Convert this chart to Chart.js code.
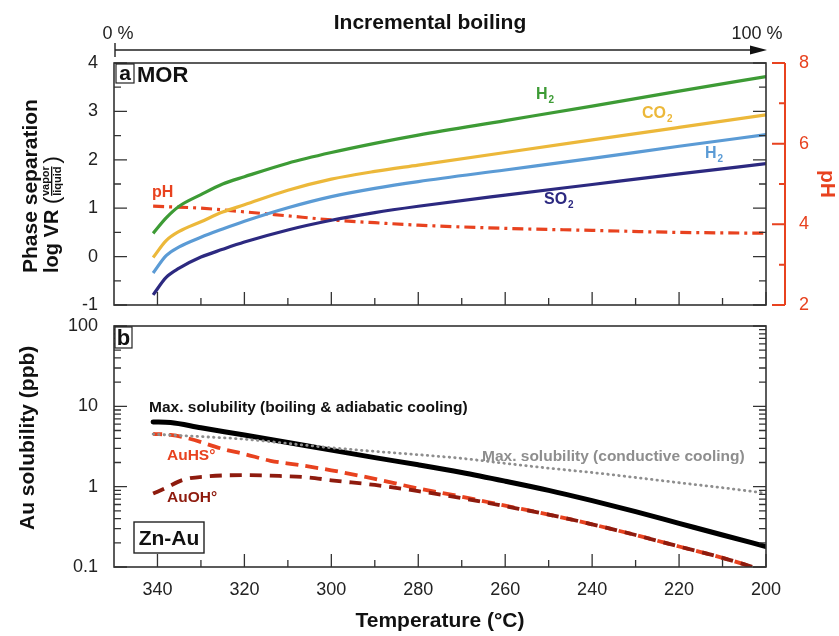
<!DOCTYPE html>
<html>
<head>
<meta charset="utf-8">
<script src="https://cdn.jsdelivr.net/npm/chart.js@4.4.0/dist/chart.umd.min.js"></script>
<style>
  html, body { margin: 0; padding: 0; background: #fff; }
  #wrap { position: relative; width: 839px; height: 636px; }
  #wrap canvas { position: absolute; left: 0; }
  #vrChart { top: 0; }
  #auChart { top: 315px; }
</style>
</head>
<body>
<div id="wrap">
  <canvas id="vrChart" width="839" height="315"></canvas>
  <canvas id="auChart" width="839" height="321"></canvas>
</div>
<script>
const FONT = '"Liberation Sans", Arial, Helvetica, sans-serif';
const AXIS = '#333';
const GREEN = '#3d9b35';
const YELLOW = '#ecb83a';
const BLUE = '#5b9bd5';
const NAVY = '#2c2980';
const RED = '#e8421f';
const DARKRED = '#8e1b0e';
const GREY = '#8e8e8e';

// (a) log vapour/liquid ratios along the boiling path
const vrTemps = [341, 338, 335, 330, 325, 320, 310, 300, 290, 280, 260, 240, 220, 200];
const logVrH2S = [0.48, 0.80, 1.04, 1.28, 1.50, 1.65, 1.93, 2.15, 2.34, 2.51, 2.81, 3.11, 3.42, 3.72];
const logVrCO2 = [-0.02, 0.33, 0.52, 0.72, 0.92, 1.07, 1.37, 1.60, 1.76, 1.89, 2.15, 2.41, 2.67, 2.93];
const logVrH2 = [-0.34, 0.02, 0.20, 0.40, 0.57, 0.73, 1.01, 1.24, 1.41, 1.55, 1.79, 2.03, 2.28, 2.52];
const logVrSO2 = [-0.79, -0.43, -0.24, -0.01, 0.15, 0.30, 0.55, 0.75, 0.91, 1.04, 1.27, 1.49, 1.71, 1.92];
const phTemps = [341, 330, 320, 310, 300, 290, 280, 260, 240, 220, 200];
const phValues = [4.45, 4.40, 4.31, 4.21, 4.11, 4.04, 3.98, 3.90, 3.85, 3.80, 3.78];

// (b) Au solubility (ppb)
const maxTemps = [341, 337, 330, 320, 310, 300, 290, 280, 270, 260, 250, 240, 230, 220, 210, 200];
const maxBoiling = [6.4, 6.3, 5.4, 4.4, 3.55, 2.85, 2.3, 1.87, 1.5, 1.17, 0.9, 0.67, 0.49, 0.35, 0.25, 0.18];
const condTemps = [341, 330, 320, 310, 300, 290, 280, 270, 260, 250, 240, 230, 220, 210, 200];
const maxConductive = [4.5, 4.2, 3.9, 3.45, 3.05, 2.75, 2.5, 2.25, 1.95, 1.7, 1.5, 1.3, 1.12, 0.97, 0.83];
const auhsTemps = [341, 337, 333, 325, 320, 314, 308, 300, 290, 280, 270, 260, 250, 240, 230, 220, 210, 203];
const auHS = [4.55, 4.4, 4.0, 2.95, 2.55, 2.1, 1.88, 1.6, 1.25, 0.95, 0.75, 0.58, 0.45, 0.34, 0.25, 0.18, 0.13, 0.1];
const auohTemps = [341, 338, 334, 328, 320, 312, 305, 300, 290, 280, 270, 260, 250, 240, 230, 220, 210, 203];
const auOH = [0.82, 0.97, 1.22, 1.35, 1.39, 1.36, 1.3, 1.2, 1.05, 0.88, 0.72, 0.57, 0.45, 0.34, 0.25, 0.18, 0.13, 0.1];

// axis ticks
const tempTicks = [340, 320, 300, 280, 260, 240, 220, 200];
const tempMinorTicks = [330, 310, 290, 270, 250, 230, 210];
const vrTicks = [-1, 0, 1, 2, 3, 4];
const vrMinorTicks = [-0.5, 0.5, 1.5, 2.5, 3.5];
const phTicks = [2, 4, 6, 8];
const phMinorTicks = [3, 5, 7];
const solTicks = [0.1, 1, 10, 100];
const solMinorTicks = [];
[0.1, 1, 10].forEach(d => { for (let k = 2; k <= 9; k++) solMinorTicks.push(d * k); });

const pts = (xs, ys) => xs.map((x, i) => ({ x, y: ys[i] }));

function line(data, color, width, extra) {
  return Object.assign({
    data, borderColor: color, borderWidth: width, pointRadius: 0,
    fill: false, cubicInterpolationMode: 'monotone'
  }, extra || {});
}

// fixed axis width; labels may overhang the plot area
function fixWidth(w) {
  return s => { s.width = w; s.paddingTop = 0; s.paddingBottom = 0; };
}

// inward tick marks on the left/right/bottom edges plus the frame
function innerTicks(chart, major, minor) {
  const { ctx, chartArea: a, scales } = chart;
  const x = scales.x, y = scales.y;
  ctx.save();
  ctx.strokeStyle = AXIS;
  ctx.lineWidth = 1.3;
  ctx.beginPath();
  const h = (v, len) => {
    const py = y.getPixelForValue(v);
    ctx.moveTo(a.left, py); ctx.lineTo(a.left + len, py);
    ctx.moveTo(a.right, py); ctx.lineTo(a.right - len, py);
  };
  major.forEach(v => h(v, 13));
  minor.forEach(v => h(v, 7));
  const vt = (v, len) => {
    const px = x.getPixelForValue(v);
    ctx.moveTo(px, a.bottom); ctx.lineTo(px, a.bottom - len);
  };
  tempTicks.forEach(v => vt(v, 13));
  tempMinorTicks.forEach(v => vt(v, 7));
  ctx.stroke();
  ctx.lineWidth = 1.6;
  ctx.strokeRect(a.left, a.top, a.right - a.left, a.bottom - a.top);
  ctx.restore();
}

function text(ctx, str, x, y, font, color, align) {
  ctx.font = font;
  ctx.fillStyle = color;
  ctx.textAlign = align || 'left';
  ctx.textBaseline = 'alphabetic';
  ctx.fillText(str, x, y);
}

function chem(ctx, x, y, base, sub, color) {
  text(ctx, base, x, y, `bold 16px ${FONT}`, color);
  const w = ctx.measureText(base).width;
  text(ctx, sub, x + w + 1, y + 4, `bold 10px ${FONT}`, color);
}

function boxedLetter(ctx, str, x, y, w, h, size) {
  ctx.save();
  ctx.fillStyle = '#fff';
  ctx.fillRect(x, y, w, h);
  ctx.strokeStyle = '#222';
  ctx.lineWidth = 1.2;
  ctx.strokeRect(x, y, w, h);
  ctx.font = `bold ${size}px ${FONT}`;
  ctx.fillStyle = '#111';
  ctx.textAlign = 'center';
  ctx.textBaseline = 'middle';
  ctx.fillText(str, x + w / 2, y + h / 2 + 1);
  ctx.restore();
}

const vrDecor = {
  id: 'vrDecor',
  afterDraw(chart) {
    const { ctx, chartArea: a, scales } = chart;
    innerTicks(chart, vrTicks, vrMinorTicks);

    // pH axis bracket
    const bx = a.right + 19;
    const r = scales.y2;
    ctx.save();
    ctx.strokeStyle = RED;
    ctx.lineWidth = 2;
    ctx.beginPath();
    ctx.moveTo(bx, r.getPixelForValue(8));
    ctx.lineTo(bx, r.getPixelForValue(2));
    phTicks.forEach(v => { const p = r.getPixelForValue(v); ctx.moveTo(bx - 13, p); ctx.lineTo(bx, p); });
    phMinorTicks.forEach(v => { const p = r.getPixelForValue(v); ctx.moveTo(bx - 6, p); ctx.lineTo(bx, p); });
    ctx.stroke();

    // incremental boiling arrow
    const x0 = scales.x.getPixelForValue(350) + 1;
    const x1 = scales.x.getPixelForValue(200) + 1;
    ctx.strokeStyle = '#222';
    ctx.fillStyle = '#111';
    ctx.lineWidth = 1.4;
    ctx.beginPath();
    ctx.moveTo(x0, 50); ctx.lineTo(x1 - 14, 50);
    ctx.moveTo(x0, 43); ctx.lineTo(x0, 57);
    ctx.stroke();
    ctx.beginPath();
    ctx.moveTo(x1 - 17, 45.5); ctx.lineTo(x1, 50); ctx.lineTo(x1 - 17, 54.5);
    ctx.closePath();
    ctx.fill();
    text(ctx, 'Incremental boiling', (a.left + a.right) / 2 - 10, 29, `bold 21px ${FONT}`, '#111', 'center');
    text(ctx, '0 %', x0 + 3, 39, `18px ${FONT}`, '#222', 'center');
    text(ctx, '100 %', x1 - 10, 39, `18px ${FONT}`, '#222', 'center');

    // axis title with vapor/liquid fraction
    ctx.save();
    ctx.translate(37, 273);
    ctx.rotate(-Math.PI / 2);
    text(ctx, 'Phase separation', 0, 0, `bold 21px ${FONT}`, '#111');
    ctx.translate(0, 21);
    text(ctx, 'log VR', 0, 0, `bold 20px ${FONT}`, '#111');
    const lw = ctx.measureText('log VR ').width;
    text(ctx, '(', lw, 1, `22px ${FONT}`, '#111');
    const pw = ctx.measureText('(').width;
    ctx.font = `bold 11px ${FONT}`;
    const fw = ctx.measureText('liquid').width;
    const fx = lw + pw + 1;
    text(ctx, 'vapor', fx + fw / 2, -9, `bold 11px ${FONT}`, '#111', 'center');
    text(ctx, 'liquid', fx + fw / 2, 3, `bold 11px ${FONT}`, '#111', 'center');
    ctx.fillStyle = '#111';
    ctx.fillRect(fx, -7, fw, 1.3);
    text(ctx, ')', fx + fw + 3, 1, `22px ${FONT}`, '#111');
    ctx.restore();

    // panel label
    boxedLetter(ctx, 'a', a.left + 2, a.top + 1, 18, 19, 21);
    text(ctx, 'MOR', a.left + 23, a.top + 19, `bold 22px ${FONT}`, '#111');

    // series labels
    chem(ctx, 536, 99, 'H', '2', GREEN);
    chem(ctx, 642, 118, 'CO', '2', YELLOW);
    chem(ctx, 705, 158, 'H', '2', BLUE);
    chem(ctx, 544, 204, 'SO', '2', NAVY);
    text(ctx, 'pH', 152, 197, `bold 16px ${FONT}`, RED);
    ctx.restore();
  }
};

const auDecor = {
  id: 'auDecor',
  afterDraw(chart) {
    const { ctx, chartArea: a } = chart;
    innerTicks(chart, solTicks, solMinorTicks);
    ctx.save();
    // top of this canvas sits 315px down the page
    const oy = -315;
    ctx.save();
    ctx.translate(34, 530 + oy);
    ctx.rotate(-Math.PI / 2);
    text(ctx, 'Au solubility (ppb)', 0, 0, `bold 21px ${FONT}`, '#111');
    ctx.restore();

    boxedLetter(ctx, 'b', a.left + 1, a.top + 1, 17, 21, 22);

    const f = `bold 15.5px ${FONT}`;
    text(ctx, 'Max. solubility (boiling & adiabatic cooling)', 149, 412 + oy, f, '#111');
    text(ctx, 'Max. solubility (conductive cooling)', 482, 461 + oy, f, GREY);
    text(ctx, 'AuHS°', 167, 460 + oy, f, RED);
    text(ctx, 'AuOH°', 167, 502 + oy, f, DARKRED);

    // Zn-Au box
    ctx.fillStyle = '#fff';
    ctx.fillRect(134, 522 + oy, 70, 31);
    ctx.strokeStyle = '#222';
    ctx.lineWidth = 1.4;
    ctx.strokeRect(134, 522 + oy, 70, 31);
    text(ctx, 'Zn-Au', 169, 545 + oy, `bold 21px ${FONT}`, '#111', 'center');
    ctx.restore();
  }
};

const tickFont = { family: FONT, size: 18 };

new Chart(document.getElementById('vrChart'), {
  type: 'line',
  data: {
    datasets: [
      line(pts(vrTemps, logVrH2S), GREEN, 3.2),
      line(pts(vrTemps, logVrCO2), YELLOW, 3.2),
      line(pts(vrTemps, logVrH2), BLUE, 3.2),
      line(pts(vrTemps, logVrSO2), NAVY, 3.2),
      line(pts(phTemps, phValues), RED, 3.2, { yAxisID: 'y2', borderDash: [11, 5, 3, 5] })
    ]
  },
  options: {
    responsive: false,
    devicePixelRatio: 1,
    animation: false,
    layout: { padding: { top: 63, bottom: 10, left: 0, right: 0 } },
    plugins: { legend: { display: false }, tooltip: { enabled: false } },
    scales: {
      x: { type: 'linear', min: 200, max: 350, reverse: true, display: false },
      y: {
        position: 'left', min: -1, max: 4,
        afterBuildTicks: s => { s.ticks = vrTicks.map(v => ({ value: v })); },
        ticks: { font: tickFont, color: '#222', padding: 16 },
        grid: { display: false, drawTicks: false },
        border: { display: false },
        afterFit: fixWidth(114)
      },
      y2: {
        position: 'right', min: 2, max: 8,
        afterBuildTicks: s => { s.ticks = phTicks.map(v => ({ value: v })); },
        ticks: { font: tickFont, color: RED, padding: 33 },
        grid: { display: false, drawTicks: false },
        border: { display: false },
        title: { display: true, text: 'pH', color: RED, padding: 0, font: { family: FONT, size: 21, weight: 'bold' } },
        afterFit: fixWidth(73)
      }
    }
  },
  plugins: [vrDecor]
});

new Chart(document.getElementById('auChart'), {
  type: 'line',
  data: {
    datasets: [
      line(pts(condTemps, maxConductive), GREY, 2.8, { borderDash: [0.5, 5], borderCapStyle: 'round' }),
      line(pts(auohTemps, auOH), DARKRED, 3.8, { borderDash: [12, 8] }),
      line(pts(auhsTemps, auHS), RED, 3.8, { borderDash: [13, 7], borderDashOffset: 4 }),
      line(pts(maxTemps, maxBoiling), '#000', 5, { borderCapStyle: 'round' })
    ]
  },
  options: {
    responsive: false,
    devicePixelRatio: 1,
    animation: false,
    layout: { padding: { top: 11, bottom: 0, left: 0, right: 73 } },
    plugins: { legend: { display: false }, tooltip: { enabled: false } },
    scales: {
      x: {
        type: 'linear', min: 200, max: 350, reverse: true,
        afterBuildTicks: s => { s.ticks = tempTicks.map(v => ({ value: v })); },
        ticks: { font: tickFont, color: '#222', padding: 12, maxRotation: 0 },
        grid: { display: false, drawTicks: false },
        border: { display: false },
        title: { display: true, text: 'Temperature (°C)', color: '#111', padding: { top: 0, bottom: 2 }, font: { family: FONT, size: 21, weight: 'bold' } },
        afterFit: s => { s.height = 69; s.paddingLeft = 0; s.paddingRight = 0; }
      },
      y: {
        type: 'logarithmic', position: 'left', min: 0.1, max: 100,
        afterBuildTicks: s => { s.ticks = solTicks.map(v => ({ value: v })); },
        ticks: { font: tickFont, color: '#222', padding: 16, callback: v => String(v) },
        grid: { display: false, drawTicks: false },
        border: { display: false },
        afterFit: fixWidth(114)
      }
    }
  },
  plugins: [auDecor]
});
</script>
</body>
</html>
